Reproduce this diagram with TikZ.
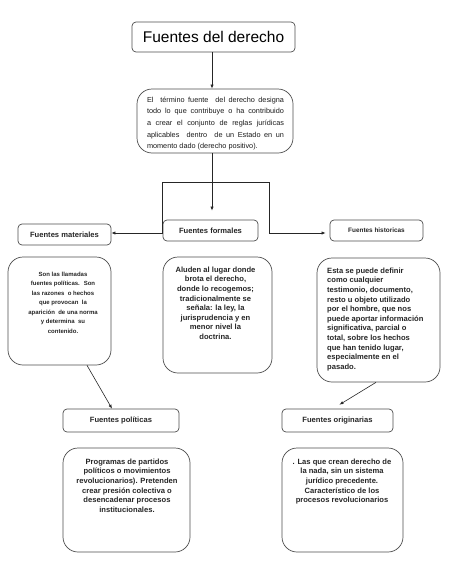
\documentclass[tikz,border=0pt]{standalone}
\usepackage{fontspec}
\setmainfont{Liberation Sans}
\usetikzlibrary{arrows.meta}
\begin{document}
\begin{tikzpicture}[x=1pt,y=-1pt,
  box/.style={draw=black!70,line width=0.7pt,rounded corners=4pt,inner sep=0pt},
  tbox/.style={draw=black!70,line width=0.7pt,rounded corners=15pt,inner sep=0pt},
  lbl/.style={font={\bfseries\fontsize{7.6}{9}\selectfont},text=black!85},
  txt/.style={font={\bfseries\fontsize{7.6}{9.6}\selectfont},text=black!85,inner sep=0pt},
  arr/.style={-{Latex[length=4pt,width=3.2pt]},black!85,line width=0.6pt},
  ln/.style={black!85,line width=0.6pt}]
\useasboundingbox (0,0) rectangle (452,581);

% title
\node[box,minimum width=163pt,minimum height=30pt,font={\fontsize{15.5}{18}\selectfont}] (title) at (213.5,37) {Fuentes del derecho};

% description
\node[tbox,minimum width=156pt,minimum height=64pt] (desc) at (215,121) {};
\node[inner sep=0pt,anchor=north,font={\fontsize{7.3}{11.7}\selectfont},text=black!90,align=left] (desctx) at (215.5,96.5)
{\makebox[137pt][s]{El \ término fuente \ del derecho designa}\\
 \makebox[137pt][s]{todo lo que contribuye o ha contribuido}\\
 \makebox[137pt][s]{a crear el conjunto de reglas jurídicas}\\
 \makebox[137pt][s]{aplicables \ dentro \ de un Estado en un}\\
 \makebox[137pt][l]{momento dado (derecho positivo).}};

% labels
\node[box,minimum width=93pt,minimum height=21pt,lbl] (mat) at (64.5,234.5) {Fuentes materiales};
\node[box,minimum width=95pt,minimum height=21pt,lbl] (form) at (210.5,230.5) {Fuentes formales};
\node[box,minimum width=93pt,minimum height=21pt,lbl,font={\bfseries\fontsize{6.4}{8}\selectfont}] (hist) at (376.5,230.5) {Fuentes historicas};

% text boxes
\node[tbox,minimum width=103pt,minimum height=108pt] (matT) at (59.5,311) {};
\node[txt,anchor=north,align=center,font={\bfseries\fontsize{6}{9.5}\selectfont}] (matTx) at ([yshift=-15pt]matT.north -| 63,0)
{Son las llamadas\\fuentes políticas. \ Son\\las razones \ o hechos\\que provocan \ la\\aparición \ de una norma\\y determina \ su\\contenido.};

\node[tbox,minimum width=109pt,minimum height=116pt] (formT) at (217.5,315) {};
\node[txt,anchor=north,align=center] (formTx) at ([yshift=-10pt]formT.north -| 215.5,0)
{Aluden al lugar donde\\brota el derecho,\\donde lo recogemos;\\tradicionalmente se\\señala: la ley, la\\jurisprudencia y en\\menor nivel la\\doctrina.};

\node[tbox,minimum width=123pt,minimum height=124pt] (histT) at (378.5,320) {};
\node[txt,anchor=north west,align=left] (histTx) at ([yshift=-10pt]histT.north -| 327,0)
{Esta se puede definir\\como cualquier\\testimonio, documento,\\resto u objeto utilizado\\por el hombre, que nos\\puede aportar información\\significativa, parcial o\\total, sobre los hechos\\que han tenido lugar,\\especialmente en el\\pasado.};

% second level labels
\node[box,minimum width=116pt,minimum height=23pt,lbl] (pol) at (121,420.5) {Fuentes políticas};
\node[box,minimum width=111pt,minimum height=23pt,lbl] (orig) at (337.5,420.5) {Fuentes originarias};

\node[tbox,minimum width=127pt,minimum height=104pt] (polT) at (126.5,500) {};
\node[txt,anchor=north,align=center] (polTx) at ([yshift=-11pt]polT.north -| 127,0)
{Programas de partidos\\políticos o movimientos\\revolucionarios). Pretenden\\crear presión colectiva o\\desencadenar procesos\\institucionales.};

\node[tbox,minimum width=121pt,minimum height=104pt] (origT) at (342.5,500) {};
\node[txt,anchor=north,align=center] (origTx) at ([yshift=-11pt]origT.north -| 342,0)
{. Las que crean derecho de\\la nada, sin un sistema\\jurídico precedente.\\Característico de los\\procesos revolucionarios};

% connectors
\draw[arr] (title.south -| 212,0) -- (desc.north -| 212,0);
\draw[arr] (desc.south -| 212,0) -- ([yshift=9pt]form.north -| 212,0);
\coordinate (bl) at (162,182);
\coordinate (br) at (269,182);
\coordinate (blc) at (162,233);
\coordinate (brc) at (269,233);
\draw[ln] (bl) -- (br);
\draw[arr] (bl) -- (blc) -- (blc -| mat.east);
\draw[arr] (br) -- (brc) -- ([xshift=-4pt]brc -| hist.west);
\draw[arr] (matT.south -| 87,0) -- ([xshift=-9pt]pol.north);
\draw[arr] (histT.south -| 376,0) -- ([xshift=2pt,yshift=4pt]orig.north);
\end{tikzpicture}
\end{document}
